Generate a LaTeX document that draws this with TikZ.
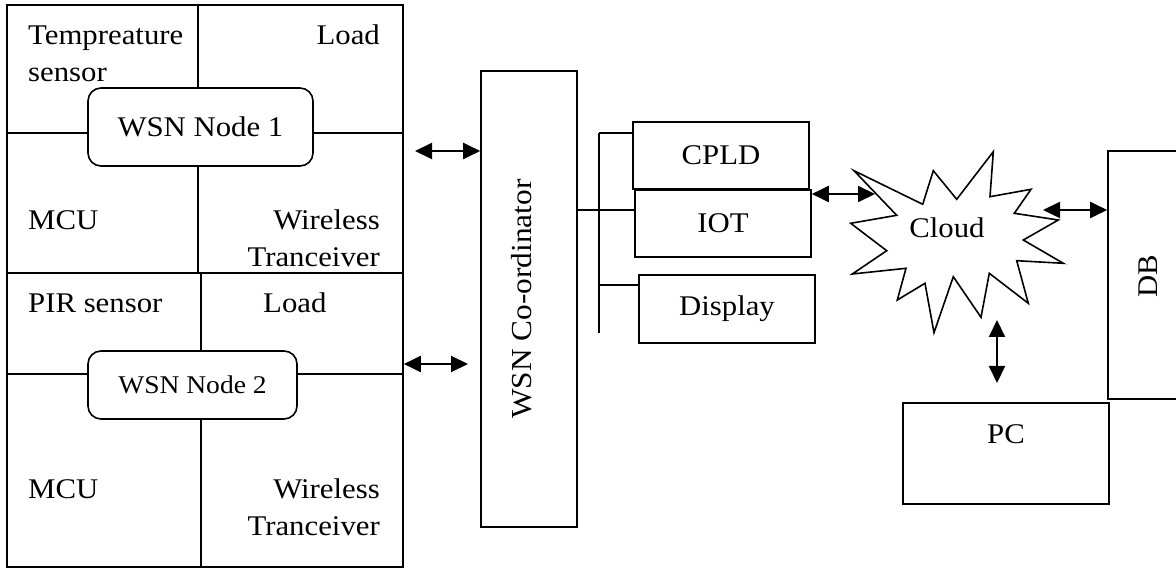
\documentclass[tikz,border=0pt]{standalone}
\usepackage{fontspec}
\setmainfont[FakeStretch=1.08]{Liberation Serif}
\usetikzlibrary{arrows.meta}
\tikzset{
  blk/.style={draw, line width=1.6pt, rectangle, inner sep=0pt, fill=white},
  rbox/.style={draw, line width=1.6pt, rounded corners=13pt, fill=white, inner sep=0pt},
  lbl/.style={inner sep=0pt, font=\fontsize{28.5}{37}\selectfont},
  wire/.style={line width=1.4pt},
  biarrow/.style={line width=2pt, {Triangle[length=17pt,width=16pt]}-{Triangle[length=17pt,width=16pt]}},
}
\begin{document}
\begin{tikzpicture}[x=1pt,y=-1pt]
\clip (0,0) rectangle (1176,569);
\fill[white] (0,0) rectangle (1176,569);

% ---- sensor node panels ----
\node[blk, minimum width=396pt, minimum height=268pt] (p1) at (205,139) {};
\node[blk, minimum width=396pt, minimum height=294pt] (p2) at (205,420) {};

% dividing lines of panel 1
\coordinate (h1) at (0,133);
\coordinate (v1) at (198,0);
\draw[wire] (h1 -| p1.west) -- (h1 -| p1.east);
\draw[wire] (v1 |- p1.north) -- (v1 |- p1.south);
\node[rbox, minimum width=225pt, minimum height=78pt, font=\fontsize{28.5}{34}\selectfont] (wsn1) at (200.5,127) {WSN Node 1};

% dividing lines of panel 2
\coordinate (h2) at (0,374);
\coordinate (v2) at (201,0);
\draw[wire] (h2 -| p2.west) -- (h2 -| p2.east);
\draw[wire] (v2 |- p2.north) -- (v2 |- p2.south);
\node[rbox, minimum width=209pt, minimum height=68pt, font=\fontsize{25.5}{30}\selectfont] (wsn2) at (192.5,385) {WSN Node 2};

% panel 1 labels
\node[lbl, anchor=base west] (t1a) at (28,45) {Tempreature};
\node[lbl, anchor=base west] (t1b) at (28,82) {sensor};
\node[lbl, anchor=base east] (l1) at (380,45) {Load};
\node[lbl, anchor=base west] (m1) at (28,230) {MCU};
\node[lbl, anchor=base east] (w1a) at (380,230) {Wireless};
\node[lbl, anchor=base east] (w1b) at (380,267) {Tranceiver};

% panel 2 labels
\node[lbl, anchor=base west] (s2) at (28,313) {PIR sensor};
\node[lbl, anchor=base west] (l2) at (263,313) {Load};
\node[lbl, anchor=base west] (m2) at (28,498) {MCU};
\node[lbl, anchor=base east] (w2a) at (380,498) {Wireless};
\node[lbl, anchor=base east] (w2b) at (380,535) {Tranceiver};

% ---- coordinator ----
\node[blk, minimum width=96pt, minimum height=456pt] (coord) at (529,299) {};
\node[inner sep=0pt, rotate=90, font=\fontsize{29}{34}\selectfont] (coordtxt) at (522,299) {WSN Co-ordinator};

\coordinate (a1) at (415,151);
\draw[biarrow] (a1) -- (a1 -| coord.west);
\coordinate (a2) at (468,364);
\draw[biarrow] (a2 -| p2.east) -- (a2);

% ---- output modules ----
\node[blk, lbl, minimum width=176pt, minimum height=67pt] (cpld) at (721,155.5) {CPLD};
\node[blk, lbl, minimum width=176pt, minimum height=67pt] (iot) at (723,223.5) {IOT};
\node[blk, lbl, minimum width=176pt, minimum height=68pt] (disp) at (727,309) {Display};

\coordinate (bt) at (599,133);
\coordinate (bb) at (599,333);
\coordinate (bj) at (599,210);
\coordinate (bd) at (599,285);
\draw[wire] (bt) -- (bb);
\draw[wire] (bt) -- (bt -| cpld.west);
\draw[wire] (bj -| coord.east) -- (bj -| iot.west);
\draw[wire] (bd) -- (bd -| disp.west);

% ---- cloud ----
\draw[line width=1.6pt, line join=miter, fill=white]
  (854,170.7) -- (922.7,204.3) -- (933.3,170.7) -- (956.7,199.3) --
  (993.3,151.7) -- (990,196.7) -- (1031,189.3) -- (1014.3,213.3) --
  (1058.3,220) -- (1023.3,240) -- (1063.3,263.3) -- (1016.7,260.7) --
  (1028.3,303.3) -- (989.3,273.3) -- (981,317.3) -- (953.3,276.7) --
  (934,332.7) -- (925,283.3) -- (897.3,300) -- (906,268.3) --
  (852.3,274) -- (886.7,250.7) -- (850.7,223.3) -- (896.7,215.3) -- cycle;
\node[lbl, anchor=base] (cloudtxt) at (947,238) {Cloud};

\coordinate (a3) at (875,194);
\draw[biarrow] (a3 -| iot.east) -- (a3);

% ---- database ----
\node[blk, minimum width=80pt, minimum height=248pt] (db) at (1148,275) {};
\node[lbl, rotate=90] (dbtxt) at (1148,276) {DB};
\coordinate (a4) at (1043,210);
\draw[biarrow] (a4) -- (a4 -| db.west);

% ---- PC ----
\node[blk, minimum width=206pt, minimum height=101pt] (pc) at (1006,453.5) {};
\node[lbl, anchor=base] (pctxt) at (1006,443) {PC};
\coordinate (a5t) at (997,320);
\coordinate (a5b) at (997,383);
\draw[biarrow] (a5t) -- (a5b);
\end{tikzpicture}
\end{document}
